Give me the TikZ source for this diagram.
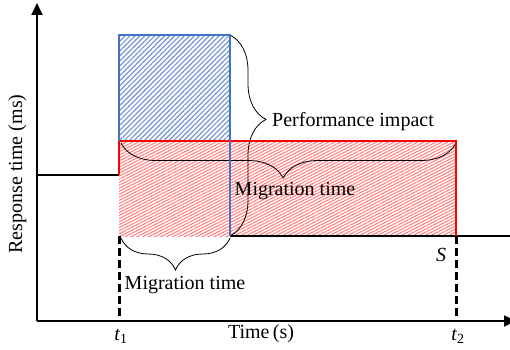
\documentclass[tikz,border=0pt]{standalone}
\usepackage{fontspec}
\setmainfont{Liberation Serif}
\usepackage{xcolor}
\usepackage{tikz}
\usetikzlibrary{arrows.meta}
\usetikzlibrary{patterns.meta}
\usetikzlibrary{decorations.pathreplacing}
\definecolor{migblue}{RGB}{68, 114, 196}

\begin{document}
\begin{tikzpicture}[x = 1pt, y = 1pt, font = \fontsize{20}{23}\selectfont,
  axisline/.style = {line width = 1.8pt, -{Triangle[width = 11pt, length = 12pt]}},
  dropline/.style = {line width = 3pt, dash pattern = on 8pt off 4pt},
  brc/.style 2 args = {decorate, decoration = {brace, amplitude = #1, aspect = #2}, line width = .8pt}]
 \useasboundingbox (0, 0) rectangle (510, 349);
 \coordinate (o) at (37, 28);
 \coordinate (ytop) at (37, 346);
 \coordinate (xend) at (516, 28);
 \coordinate (base0) at (37, 174);
 \coordinate (base1) at (119, 174);
 \coordinate (t1) at (119, 28);
 \coordinate (t2) at (456, 28);
 \coordinate (low1) at (119, 113);
 \coordinate (low2) at (230, 113);
 \coordinate (s) at (456, 113);
 \coordinate (lowend) at (512, 113);
 \coordinate (mid1) at (119, 208);
 \coordinate (mid2) at (456, 208);
 \coordinate (top1) at (119, 314);
 \coordinate (top2) at (230, 314);
 % hatched areas
 \fill[pattern = {Lines[angle = 45, distance = 3.5pt, line width = 1.2pt]}, pattern color = migblue!75] (mid1) rectangle (top2);
 \fill[pattern = {Lines[angle = 27, distance = 2.7pt, line width = 1.1pt]}, pattern color = red!50] (low1) rectangle (mid2);
 \draw[axisline] (o) -- (ytop);
 \draw[axisline] (o) -- (xend);
 \draw[line width = 1.8pt] (base0) -- (base1);
 \draw[line width = 1.8pt] (low2) -- (lowend);
 \draw[dropline] (low1) -- (t1);
 \draw[dropline] (s) -- (t2);
 \draw[brc = {36pt}{.42}] (230, 314) -- (230, 113);
 \draw[brc = {35pt}{.516}] (456, 206) -- (121, 206);
 \draw[brc = {32pt}{.5}] (230, 111) -- (121, 111);
 \draw[red, line width = 2.6pt] (base1) -- (mid1) -- (mid2) -- (s);
 \draw[migblue, line width = 2.2pt] (mid1) -- (top1) -- (top2) -- (low2);
 \node[anchor = base west, inner sep = 0] (perf) at (272, 223) {Performance impact};
 \node[anchor = base, inner sep = 0] (mig1) at (295, 154) {Migration time};
 \node[anchor = base, inner sep = 0] (mig2) at (185, 60) {Migration time};
 \node[anchor = base, inner sep = 0] (lbl1) at (121, 9) {\textit{t}\textsubscript{1}};
 \node[anchor = base, inner sep = 0] (lbl2) at (458, 9) {\textit{t}\textsubscript{2}};
 \node[anchor = base, inner sep = 0] (lbls) at (441, 88) {\textit{S}};
 \node[anchor = base, inner sep = 0] (xlbl) at (261, 11) {Time\,(s)};
 \node[anchor = base, inner sep = 0, rotate = 90] (ylbl) at (22, 175) {Response time (ms)};
\end{tikzpicture}
\end{document}
